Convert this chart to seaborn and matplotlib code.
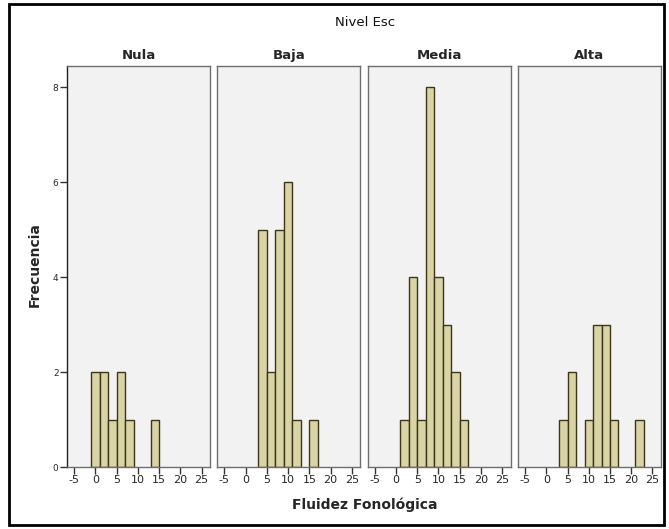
import numpy as np
import pandas as pd
import seaborn as sns
import matplotlib.pyplot as plt
from matplotlib.patches import Rectangle

# Histogram counts per education level, bins of width 2 on odd edges
levels = ["Nula", "Baja", "Media", "Alta"]
bin_edges = list(range(-1, 25, 2))

nula_centers = [0, 2, 4, 6, 8, 14]
nula_counts = [2, 2, 1, 2, 1, 1]

baja_centers = [4, 6, 8, 10, 12, 16]
baja_counts = [5, 2, 5, 6, 1, 1]

media_centers = [2, 4, 6, 8, 10, 12, 14, 16]
media_counts = [1, 4, 1, 8, 4, 3, 2, 1]

alta_centers = [4, 6, 10, 12, 14, 16, 22]
alta_counts = [1, 2, 1, 3, 3, 1, 1]

x_ticks = [-5, 0, 5, 10, 15, 20, 25]
y_ticks = [0, 2, 4, 6, 8]

rows = []
for lvl, cs, ns in [("Nula", nula_centers, nula_counts),
                    ("Baja", baja_centers, baja_counts),
                    ("Media", media_centers, media_counts),
                    ("Alta", alta_centers, alta_counts)]:
    for c, n in zip(cs, ns):
        rows.append({"Nivel Esc": lvl, "Fluidez Fonológica": c, "Frecuencia": n})
df = pd.DataFrame(rows)

sns.set_theme(style="white")
plt.rcParams["font.family"] = ["DejaVu Sans"]

bar_color = "#d8d4a6"
edge_color = "#3c3518"

g = sns.FacetGrid(df, col="Nivel Esc", col_order=levels, sharex=True, sharey=True,
                  height=5.29, aspect=0.3)
g.map_dataframe(sns.histplot, x="Fluidez Fonológica", weights="Frecuencia",
                bins=bin_edges, color=bar_color, edgecolor=edge_color,
                linewidth=1.0, alpha=1.0)

fig = g.figure
fig.set_size_inches(6.69, 5.29)
fig.subplots_adjust(left=0.100, right=0.988, bottom=0.117, top=0.875, wspace=0.05)

for ax, lvl in zip(g.axes.flat, levels):
    # empty bins would otherwise leave an outline along the baseline
    for p in list(ax.patches):
        if p.get_height() == 0:
            p.remove()
    ax.set_facecolor("#f2f2f2")
    ax.set_xlim(-6.7, 27)
    ax.set_ylim(0, 8.45)
    ax.set_xticks(x_ticks)
    ax.set_xticklabels([str(t) for t in x_ticks])
    ax.set_title(lvl, fontsize=9.5, fontweight="bold", pad=5)
    ax.set_xlabel("")
    ax.set_ylabel("")
    for s in ax.spines.values():
        s.set_visible(True)
        s.set_color("#6e6e6e")
        s.set_linewidth(1.0)
    ax.tick_params(axis="x", bottom=True, length=5, width=1, color="#333333",
                   labelsize=8, pad=1, direction="out")
    ax.tick_params(axis="y", left=False, labelleft=False)

ax0 = g.axes.flat[0]
ax0.set_yticks(y_ticks)
ax0.tick_params(axis="y", left=True, labelleft=True, length=5, width=1,
                color="#333333", labelsize=6.5, pad=1, direction="out")
ax0.spines["left"].set_color("#222222")

fig.text(0.545, 0.958, "Nivel Esc", ha="center", va="center", fontsize=9.5,
         fontweight="medium", color="#111111")
fig.text(0.545, 0.045, "Fluidez Fonológica", ha="center", va="center",
         fontsize=10, fontweight="bold")
fig.text(0.052, 0.50, "Frecuencia", ha="center", va="center", rotation=90,
         fontsize=10, fontweight="bold")

# outer frame around the whole chart
fig.patches.append(Rectangle((0.013, 0.008), 0.98, 0.985, transform=fig.transFigure,
                             fill=False, edgecolor="black", linewidth=2))

fig.savefig("out.png", dpi=100, facecolor="white")
